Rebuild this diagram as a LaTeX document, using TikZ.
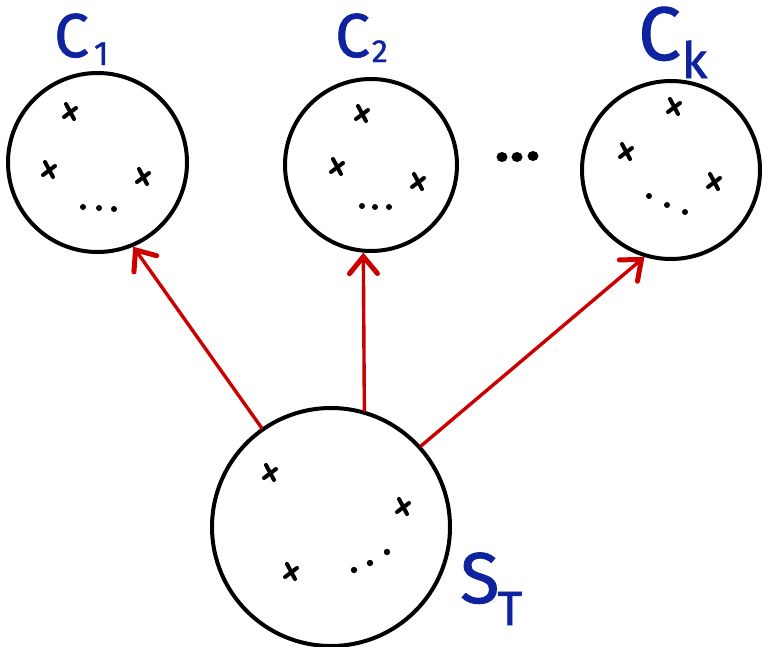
\documentclass[tikz,border=0pt]{standalone}
\usepackage{fontspec}
\setmainfont{Fira Sans}
\newfontfamily\labfont[FakeBold=1.2]{Fira Sans}
\usetikzlibrary{arrows.meta}
\definecolor{inkblue}{RGB}{15,35,160}
\definecolor{inkred}{RGB}{205,0,0}
\tikzset{
  setc/.style={circle, draw=black, line width=4pt, inner sep=0pt},
  arr/.style={draw=inkred, line width=3.4pt, line cap=round,
    -{Straight Barb[length=17pt, width=28pt, line width=5pt, line cap=round]}},
  xline/.style={line width=4pt, line cap=round},
  lab/.style={text=inkblue, anchor=base west, inner sep=0pt, font=\labfont},
  xm/.pic={\draw[xline] (-4,-8) -- (4,7); \draw[xline] (-6,5) -- (6,-4);},
  bigdot/.style={fill=black},
}
\begin{document}
\begin{tikzpicture}[x=1pt,y=-1pt]
\useasboundingbox (0,0) rectangle (763,646);
% sets
\node[setc, minimum size=179pt] (C1) at (97.5,162.5) {};
\node[setc, minimum size=172pt] (C2) at (371,165) {};
\node[setc, minimum size=178pt] (Ck) at (671,170) {};
\node[setc, minimum size=238pt] (S) at (331,527) {};
% labels
\node[lab] (L1) at (54,57) {\fontsize{62}{62}\selectfont C\hspace{5pt}\raisebox{-8pt}{\fontsize{34}{34}\selectfont 1}};
\node[lab] (L2) at (335,57) {\fontsize{62}{62}\selectfont C\hspace{2pt}\raisebox{-5pt}{\fontsize{32}{32}\selectfont 2}};
\node[lab] (Lk) at (638,60) {\fontsize{76}{76}\selectfont C\hspace{1pt}\raisebox{-18pt}{\fontsize{50}{50}\selectfont k}};
\node[lab] (LS) at (460,603) {\fontsize{72}{72}\selectfont S\hspace{-2pt}\raisebox{-22pt}{\fontsize{48}{48}\selectfont T}};
% elements of C1
\pic at (70,112) {xm};
\pic at (49,170) {xm};
\pic at (143,177) {xm};
\foreach \p in {(83,207),(99,208),(114,209)} \fill \p circle (3);
% elements of C2
\pic at (362,114) {xm};
\pic at (337,167) {xm};
\pic at (418,182) {xm};
\foreach \p in {(362,206),(375,207),(389,207)} \fill \p circle (3);
% elements of Ck
\pic at (674,107) {xm};
\pic at (626,152) {xm};
\pic at (714,182) {xm};
\foreach \p in {(649,196),(667,205),(685,212)} \fill \p circle (3);
% elements of S_T
\pic at (270,473) {xm};
\pic at (403,507) {xm};
\pic at (291,572) {xm};
\foreach \p in {(354,570),(370,563),(387,552)} \fill \p circle (3.2);
% ellipsis between clusters
\foreach \p in {(502,157),(517,157),(533,156)} \fill[bigdot] \p ellipse (5.5 and 5);
% arrows
\draw[arr] (S.125) -- (C1.-67);
\draw[arr] (S.74) -- (C2.-95);
\draw[arr] (S.42) -- (Ck.-107);
\end{tikzpicture}
\end{document}
